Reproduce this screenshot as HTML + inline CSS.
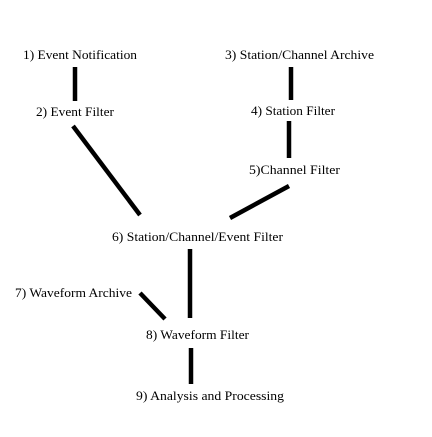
<!DOCTYPE html>
<html><head><style>
html,body{margin:0;padding:0;background:#fff;}
svg text{font-family:"Liberation Serif",serif;font-size:12.5px;fill:#000;}
</style></head><body>
<svg width="432" height="432" xmlns="http://www.w3.org/2000/svg">
<rect width="432" height="432" fill="#fff"/>
<text x="23" y="59" textLength="114" lengthAdjust="spacingAndGlyphs">1) Event Notification</text>
<text x="225" y="59" textLength="149" lengthAdjust="spacingAndGlyphs">3) Station/Channel Archive</text>
<text x="36" y="116" textLength="78" lengthAdjust="spacingAndGlyphs">2) Event Filter</text>
<text x="251" y="115" textLength="84" lengthAdjust="spacingAndGlyphs">4) Station Filter</text>
<text x="249" y="174" textLength="91" lengthAdjust="spacingAndGlyphs">5)Channel Filter</text>
<text x="112" y="241" textLength="171" lengthAdjust="spacingAndGlyphs">6) Station/Channel/Event Filter</text>
<text x="15" y="297" textLength="117" lengthAdjust="spacingAndGlyphs">7) Waveform Archive</text>
<text x="146" y="339" textLength="103" lengthAdjust="spacingAndGlyphs">8) Waveform Filter</text>
<text x="136" y="400" textLength="148" lengthAdjust="spacingAndGlyphs">9) Analysis and Processing</text>
<g stroke="#000" stroke-width="4.5" fill="none">
<line x1="75" y1="67" x2="75" y2="101"/>
<line x1="291" y1="67" x2="291" y2="100"/>
<line x1="289" y1="121" x2="289" y2="158"/>
<line x1="73" y1="126" x2="140" y2="215"/>
<line x1="289" y1="186" x2="230" y2="218"/>
<line x1="190" y1="249" x2="190" y2="318"/>
<line x1="140" y1="293" x2="165" y2="319"/>
<line x1="191" y1="348" x2="191" y2="384"/>
</g>
</svg>
</body></html>
